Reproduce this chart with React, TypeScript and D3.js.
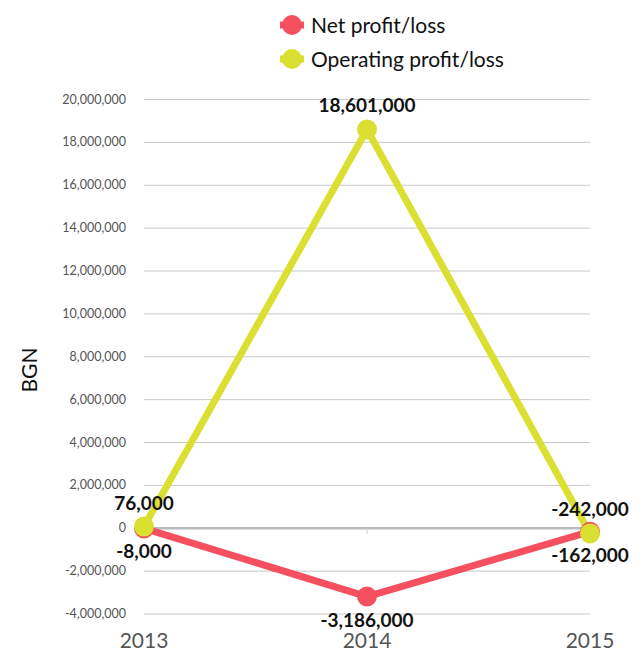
import React from "react";
import * as d3 from "d3";

const years = ["2013", "2014", "2015"];
const netProfit = [-8000, -3186000, -162000];
const operatingProfit = [76000, 18601000, -242000];
const yTicks = [-4000000, -2000000, 0, 2000000, 4000000, 6000000, 8000000, 10000000, 12000000, 14000000, 16000000, 18000000, 20000000];
const seriesNames = ["Net profit/loss", "Operating profit/loss"];
const seriesColors = ["#f4505f", "#d9e032"];

export default function App() {
  const W = 644, H = 651;
  const x = d3.scalePoint<string>().domain(years).range([144, 590]);
  const y = d3.scaleLinear().domain([-4000000, 20000000]).range([614, 99.5]);
  const base = d3.format(",");
  const fmt = (v: number) => base(v).replace("\u2212", "-");
  const font = "Lato, 'Open Sans', sans-serif";
  const series = [
    { name: seriesNames[0], color: seriesColors[0], values: netProfit, above: false },
    { name: seriesNames[1], color: seriesColors[1], values: operatingProfit, above: true },
  ];
  const line = d3.line<number>().x((_, i) => x(years[i])!).y((d) => y(d));
  return (
    <svg width={W} height={H} style={{ position: "absolute", left: 0, top: 0 }} fontFamily={font}>
      <rect width={W} height={H} fill="#fff" />
      {yTicks.map((t) => (
        <g key={t}>
          <line x1={144} x2={590} y1={y(t)} y2={y(t)} stroke={t === 0 ? "#bbbbbb" : "#c8c8c8"} strokeWidth={t === 0 ? 2.5 : 1} />
          <text x={126} y={y(t) + 4} textAnchor="end" fontSize={12.5} fill="#555">{fmt(t)}</text>
        </g>
      ))}
      <line x1={x("2014")} x2={x("2014")} y1={y(0)} y2={y(0) + 6} stroke="#ccc" strokeWidth={1} />
      {years.map((yr) => (
        <text key={yr} x={x(yr)} y={648} textAnchor="middle" fontSize={21} fill="#555">{yr}</text>
      ))}
      <text transform={`translate(37,${370}) rotate(-90)`} textAnchor="middle" fontSize={21} fill="#111">BGN</text>
      {series.map((s) => (
        <g key={s.name}>
          <path d={line(s.values)!} fill="none" stroke={s.color} strokeWidth={7} strokeLinejoin="round" />
        </g>
      ))}
      {series.map((s) => (
        <g key={s.name + "m"}>
          {s.values.map((v, i) => (
            <circle key={i} cx={x(years[i])} cy={y(v)} r={10} fill={s.color} />
          ))}
        </g>
      ))}
      {series.map((s) => (
        <g key={s.name + "l"}>
          {s.values.map((v, i) => (
            <text key={i} x={x(years[i])} y={s.above ? y(v) - 17 : y(v) + 30} textAnchor="middle" fontSize={19} fontWeight="bold" fill="#111">{fmt(v)}</text>
          ))}
        </g>
      ))}
      {series.map((s, i) => (
        <g key={s.name + "leg"} transform={`translate(292,${25 + i * 34})`}>
          <line x1={-12} x2={12} y1={0} y2={0} stroke={s.color} strokeWidth={7} />
          <circle r={10} fill={s.color} />
          <text x={19} y={7.5} fontSize={21} fill="#111">{s.name}</text>
        </g>
      ))}
    </svg>
  );
}
